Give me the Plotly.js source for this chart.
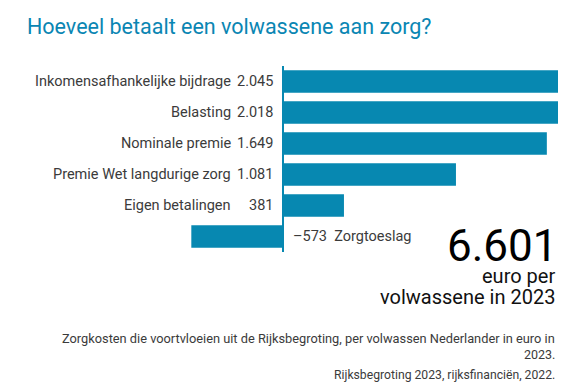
<!DOCTYPE html>
<html>
<head>
<meta charset="utf-8">
<script src="https://cdn.plot.ly/plotly-3.0.1.min.js"></script>
<style>
  html, body { margin: 0; padding: 0; background: #fff; }
  #chart { width: 583px; height: 388px; }
</style>
</head>
<body>
<div id="chart"></div>
<script>
// --- data ---
const categories = [
  'Inkomensafhankelijke bijdrage',
  'Belasting',
  'Nominale premie',
  'Premie Wet langdurige zorg',
  'Eigen betalingen',
  'Zorgtoeslag'
];
const values = [2045, 2018, 1649, 1081, 381, -573];
const titleText = 'Hoeveel betaalt een volwassene aan zorg?';
const totalLine1 = 'euro per';
const totalLine2 = 'volwassene in 2023';
const noteLine1 = 'Zorgkosten die voortvloeien uit de Rijksbegroting, per volwassen Nederlander in euro in';
const noteLine2 = '2023.';
const sourceLine = 'Rijksbegroting 2023, rijksfinanciën, 2022.';

// --- helpers ---
function nl(n) {
  const s = String(Math.abs(n)).replace(/\B(?=(\d{3})+(?!\d))/g, '.');
  return (n < 0 ? '\u2013' : '') + s;
}
const total = values.reduce((a, b) => a + b, 0);

const blue = '#0788b1';
const textCol = '#3b3b3b';
const FONT = 'Roboto, "DejaVu Sans", sans-serif';

// plot area geometry (px)
const plotLeft = 160, plotRight = 558, plotTop = 65.5, plotBottom = 252.5;
const W = 583, H = 388;
const px = x => (x - plotLeft) / (plotRight - plotLeft);
const py = y => (plotBottom - y) / (plotBottom - plotTop);

const annotations = [];
categories.forEach((c, i) => {
  const v = values[i];
  if (v >= 0) {
    annotations.push({
      x: 0, y: c, xref: 'x', yref: 'y', text: nl(v), showarrow: false,
      xanchor: 'right', xshift: -8, font: { family: FONT, size: 14.5, color: textCol }
    });
    annotations.push({
      x: 0, y: c, xref: 'x', yref: 'y', text: c, showarrow: false,
      xanchor: 'right', xshift: -50, font: { family: FONT, size: 14.5, color: textCol }
    });
  } else {
    annotations.push({
      x: 0, y: c, xref: 'x', yref: 'y', text: nl(v) + '&nbsp;&nbsp;' + c, showarrow: false,
      xanchor: 'left', xshift: 8, font: { family: FONT, size: 14.5, color: textCol }
    });
  }
});

const rightX = px(557);
annotations.push({
  x: px(560), y: py(246), xref: 'paper', yref: 'paper', yanchor: 'middle',
  xanchor: 'right', showarrow: false, text: nl(total),
  font: { family: FONT, size: 44, color: '#000' }
});
annotations.push({
  x: rightX, y: py(277), xref: 'paper', yref: 'paper', yanchor: 'middle',
  xanchor: 'right', showarrow: false, text: totalLine1,
  font: { family: FONT, size: 20, color: '#111' }
});
annotations.push({
  x: rightX, y: py(298), xref: 'paper', yref: 'paper', yanchor: 'middle',
  xanchor: 'right', showarrow: false, text: totalLine2,
  font: { family: FONT, size: 20, color: '#111' }
});
annotations.push({
  x: rightX, y: py(339), xref: 'paper', yref: 'paper', yanchor: 'middle',
  xanchor: 'right', showarrow: false, text: noteLine1,
  font: { family: FONT, size: 12.8, color: textCol }
});
annotations.push({
  x: rightX, y: py(356), xref: 'paper', yref: 'paper', yanchor: 'middle',
  xanchor: 'right', showarrow: false, text: noteLine2,
  font: { family: FONT, size: 12.5, color: textCol }
});
annotations.push({
  x: rightX, y: py(376), xref: 'paper', yref: 'paper', yanchor: 'middle',
  xanchor: 'right', showarrow: false, text: sourceLine,
  font: { family: FONT, size: 12.2, color: textCol }
});

const trace = {
  type: 'bar', orientation: 'h',
  x: values, y: categories,
  marker: { color: blue, line: { width: 0 } },
  hoverinfo: 'none'
};

// scale: zero at x=283 px, right edge 558 px
const pxPerUnit = 0.16;
const xmin = -(283 - plotLeft) / pxPerUnit;
const xmax = (plotRight - 283) / pxPerUnit;

const layout = {
  width: W, height: H,
  margin: { l: plotLeft, r: W - plotRight, t: plotTop, b: H - plotBottom, pad: 0 },
  paper_bgcolor: '#fff', plot_bgcolor: '#fff',
  showlegend: false,
  bargap: 0.27,
  title: {
    text: titleText, xref: 'container', yref: 'container',
    x: 27 / W, xanchor: 'left', y: 1 - 26 / H, yanchor: 'middle',
    font: { family: FONT, size: 21.5, color: '#0a86b3' }
  },
  xaxis: {
    range: [xmin, xmax], showgrid: false, showticklabels: false, ticks: '',
    zeroline: true, zerolinecolor: blue, zerolinewidth: 2, showline: false, fixedrange: true
  },
  yaxis: {
    autorange: 'reversed', showgrid: false, showticklabels: false, ticks: '',
    zeroline: false, showline: false, fixedrange: true
  },
  annotations: annotations
};

Plotly.newPlot('chart', [trace], layout, { displayModeBar: false, staticPlot: true });
</script>
</body>
</html>
